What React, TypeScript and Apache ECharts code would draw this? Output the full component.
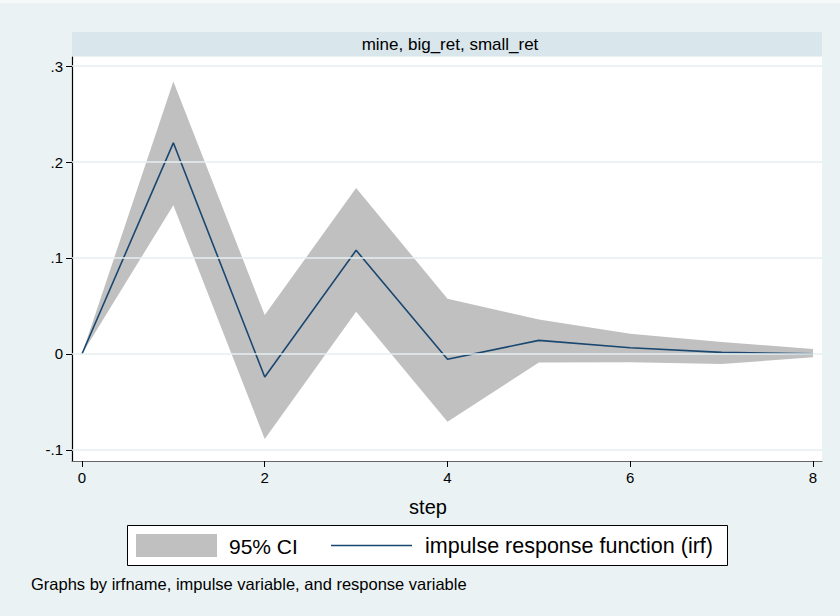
import React, { useEffect, useRef } from "react";
import * as echarts from "echarts";

const steps = [0, 1, 2, 3, 4, 5, 6, 7, 8];
const irf = [0, 0.22, -0.024, 0.108, -0.0055, 0.0142, 0.0065, 0.0017, 0.0003];
const ciUpper = [0, 0.284, 0.0405, 0.173, 0.0575, 0.036, 0.021, 0.0125, 0.0052];
const ciLower = [0, 0.155, -0.0885, 0.044, -0.0705, -0.009, -0.0085, -0.0105, -0.0035];
const xTicks = [0, 2, 4, 6, 8];
const yTicks = [-0.1, 0, 0.1, 0.2, 0.3];
const yTickLabels = ["-.1", "0", ".1", ".2", ".3"];

const panelTitle = "mine, big_ret, small_ret";
const xTitle = "step";
const legendCI = "95% CI";
const legendIRF = "impulse response function (irf)";
const footnote = "Graphs by irfname, impulse variable, and response variable";

const FONT = "'Liberation Sans', Arial, Helvetica, sans-serif";

export default function App() {
  const ref = useRef<HTMLDivElement>(null);
  useEffect(() => {
    document.body.style.margin = "0";
    const chart = echarts.init(ref.current!, null, { renderer: "svg" });
    const option: any = {
      animation: false,
      backgroundColor: "#eaf2f3",
      textStyle: { fontFamily: FONT },
      grid: { left: 72, top: 57, width: 750, height: 404, show: true, backgroundColor: "#ffffff", borderWidth: 0 },
      xAxis: {
        type: "value",
        min: -0.109,
        max: 8.098,
        axisLine: { show: true, onZero: false, lineStyle: { color: "#666666", width: 1.2 } },
        axisTick: { show: true, length: 6, customValues: xTicks, lineStyle: { color: "#000000" } },
        axisLabel: { show: true, customValues: xTicks, color: "#000000", fontSize: 15, margin: 9, fontFamily: FONT },
        splitLine: { show: false },
      },
      yAxis: {
        type: "value",
        min: -0.1115,
        max: 0.3094,
        axisLine: { show: true, onZero: false, lineStyle: { color: "#000000", width: 1.2 } },
        axisTick: { show: true, length: 6, customValues: yTicks, lineStyle: { color: "#000000" } },
        axisLabel: {
          show: true,
          customValues: yTicks,
          color: "#000000",
          fontSize: 15,
          margin: 9,
          fontFamily: FONT,
          formatter: (v: number) => {
            const i = yTicks.findIndex((t) => Math.abs(t - v) < 1e-9);
            return i >= 0 ? yTickLabels[i] : "";
          },
        },
        splitLine: { show: false },
      },
      series: [
        {
          type: "line",
          z: 1,
          data: [],
          silent: true,
          markLine: {
            silent: true,
            symbol: "none",
            label: { show: false },
            lineStyle: { color: "#e6eff2", width: 1.5, type: "solid" },
            data: yTicks.map((v) => ({ yAxis: v })),
          },
        },
        {
          type: "custom",
          z: 2,
          silent: true,
          data: [[0, 0]],
          renderItem: (_params: any, api: any) => {
            const pts: number[][] = [];
            steps.forEach((s, i) => pts.push(api.coord([s, ciUpper[i]])));
            for (let i = steps.length - 1; i >= 0; i--) pts.push(api.coord([steps[i], ciLower[i]]));
            return { type: "polygon", shape: { points: pts }, style: { fill: "#c0c0c0", stroke: "none" } };
          },
        },
        {
          type: "line",
          z: 3,
          data: steps.map((s, i) => [s, irf[i]]),
          showSymbol: false,
          symbol: "none",
          lineStyle: { color: "#1a476f", width: 1.6 },
          itemStyle: { color: "#1a476f" },
        },
      ],
      graphic: [
        { type: "rect", shape: { x: 0, y: 0, width: 840, height: 3 }, style: { fill: "#f6f9fa" }, z: 0 },
        { type: "rect", shape: { x: 72, y: 32, width: 750, height: 24 }, style: { fill: "#d9e6eb" }, z: 10 },
        {
          type: "text",
          x: 450,
          y: 44,
          z: 11,
          style: { text: panelTitle, fill: "#000000", font: `17px ${FONT}`, align: "center", verticalAlign: "middle" },
        },
        {
          type: "text",
          x: 428,
          y: 507,
          z: 11,
          style: { text: xTitle, fill: "#000000", font: `20px ${FONT}`, align: "center", verticalAlign: "middle" },
        },
        {
          type: "rect",
          shape: { x: 127.5, y: 525.5, width: 600, height: 40 },
          style: { fill: "#ffffff", stroke: "#000000", lineWidth: 1 },
          z: 10,
        },
        { type: "rect", shape: { x: 136, y: 534, width: 81, height: 23 }, style: { fill: "#c0c0c0" }, z: 11 },
        {
          type: "text",
          x: 229,
          y: 546,
          z: 11,
          style: { text: legendCI, fill: "#000000", font: `21px ${FONT}`, align: "left", verticalAlign: "middle" },
        },
        {
          type: "line",
          shape: { x1: 331, y1: 545.5, x2: 412, y2: 545.5 },
          style: { stroke: "#1a476f", lineWidth: 1.6 },
          z: 11,
        },
        {
          type: "text",
          x: 425,
          y: 546,
          z: 11,
          style: { text: legendIRF, fill: "#000000", font: `21.5px ${FONT}`, align: "left", verticalAlign: "middle" },
        },
        {
          type: "text",
          x: 31,
          y: 584,
          z: 11,
          style: { text: footnote, fill: "#000000", font: `16.5px ${FONT}`, align: "left", verticalAlign: "middle" },
        },
      ],
    };
    chart.setOption(option);
    return () => chart.dispose();
  }, []);
  return <div ref={ref} style={{ width: 840, height: 616 }} />;
}
